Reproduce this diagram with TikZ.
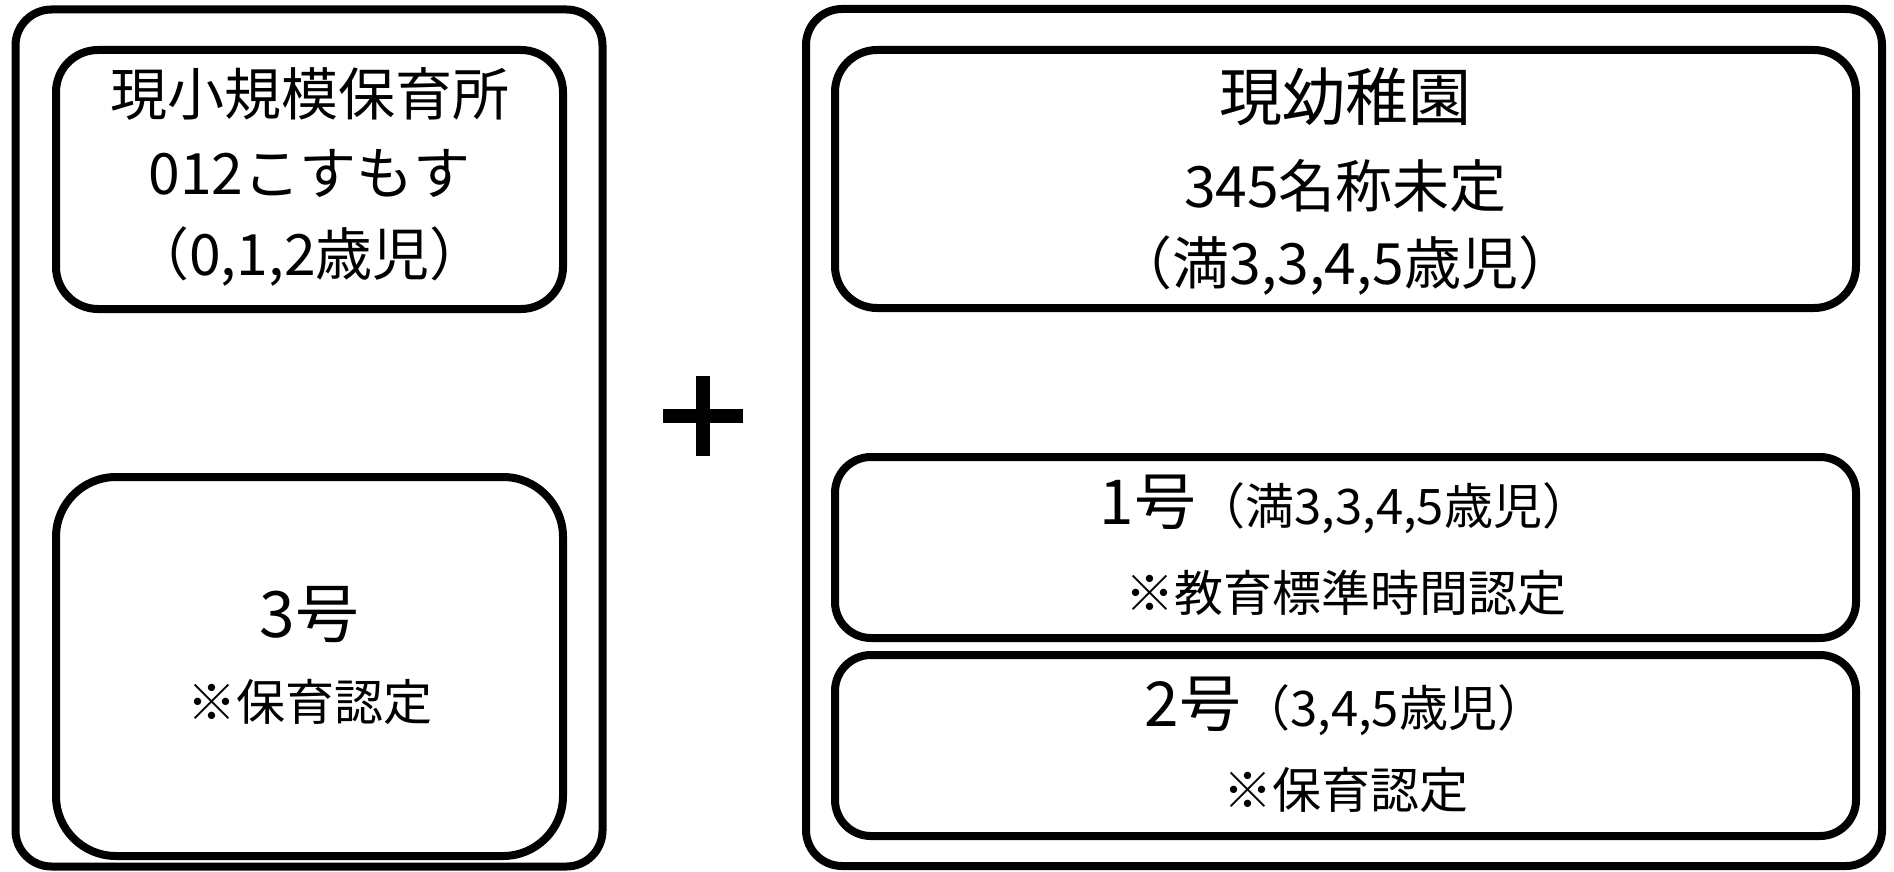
\documentclass[tikz,border=0pt]{standalone}
\usepackage{fontspec}
\setmainfont{Noto Sans CJK JP}
\usetikzlibrary{positioning}
\tikzset{outer box/.style={rectangle,draw,line width=8pt,rounded corners=36pt,inner sep=0pt},}
\tikzset{inner box/.style={rectangle,draw,line width=8pt,inner sep=0pt},}
\tikzset{line text/.style={anchor=base,inner sep=0pt}}
\tikzstyle{plus sign} = [line width=14pt]
\newcommand{\jpsize}[1]{\fontsize{#1}{#1}\selectfont}

\begin{document}
\begin{tikzpicture}[x=1pt,y=-1pt]
  \useasboundingbox (0,0) rectangle (1894,872);
    % left side
    \node[outer box, minimum width=587pt, minimum height=857pt] (left) at (309,438) {};
    \node[inner box, rounded corners=42pt, minimum width=507pt, minimum height=259pt] (kosumosu) at (309.5,179.5) {};
    \node[inner box, rounded corners=60pt, minimum width=507pt, minimum height=379pt] (gou3) at (309.5,666.5) {};

    \node[line text] (k1) at (309.5,116) {\jpsize{57}現小規模保育所};
    \node[line text] (k2) at (309.5,194) {\jpsize{57}012こすもす};
    \node[line text] (k3) at (309.5,275) {\jpsize{57}（0,1,2歳児）};
    \node[line text] (g31) at (309.5,637) {\jpsize{64}3号};
    \node[line text] (g32) at (309.5,720) {\jpsize{49}※保育認定};

    % plus
    \coordinate (plus) at (703,416);
    \draw[plus sign] (plus) ++(-40,0) -- ++(80,0);
    \draw[plus sign] (plus) ++(0,-40) -- ++(0,80);

    % right side
    \node[outer box, minimum width=1076pt, minimum height=857pt] (right) at (1344,437.5) {};
    \node[inner box, rounded corners=42pt, minimum width=1021pt, minimum height=258pt] (youchien) at (1345.5,179) {};
    \node[inner box, rounded corners=36pt, minimum width=1021pt, minimum height=181pt] (gou1) at (1345.5,547.5) {};
    \node[inner box, rounded corners=36pt, minimum width=1021pt, minimum height=181pt] (gou2) at (1345.5,745.5) {};

    \node[line text] (y1) at (1345.5,121) {\jpsize{63}現幼稚園};
    \node[line text] (y2) at (1345.5,207) {\jpsize{57}345名称未定};
    \node[line text] (y3) at (1345.5,284) {\jpsize{57}（満3,3,4,5歳児）};
    \node[line text] (g11) at (1345.5,524) {\jpsize{62}1号\jpsize{49}（満3,3,4,5歳児）};
    \node[line text] (g12) at (1345.5,611) {\jpsize{49}※教育標準時間認定};
    \node[line text] (g21) at (1345.5,726) {\jpsize{62}2号\jpsize{49}（3,4,5歳児）};
    \node[line text] (g22) at (1345.5,808) {\jpsize{49}※保育認定};
\end{tikzpicture}
\end{document}
